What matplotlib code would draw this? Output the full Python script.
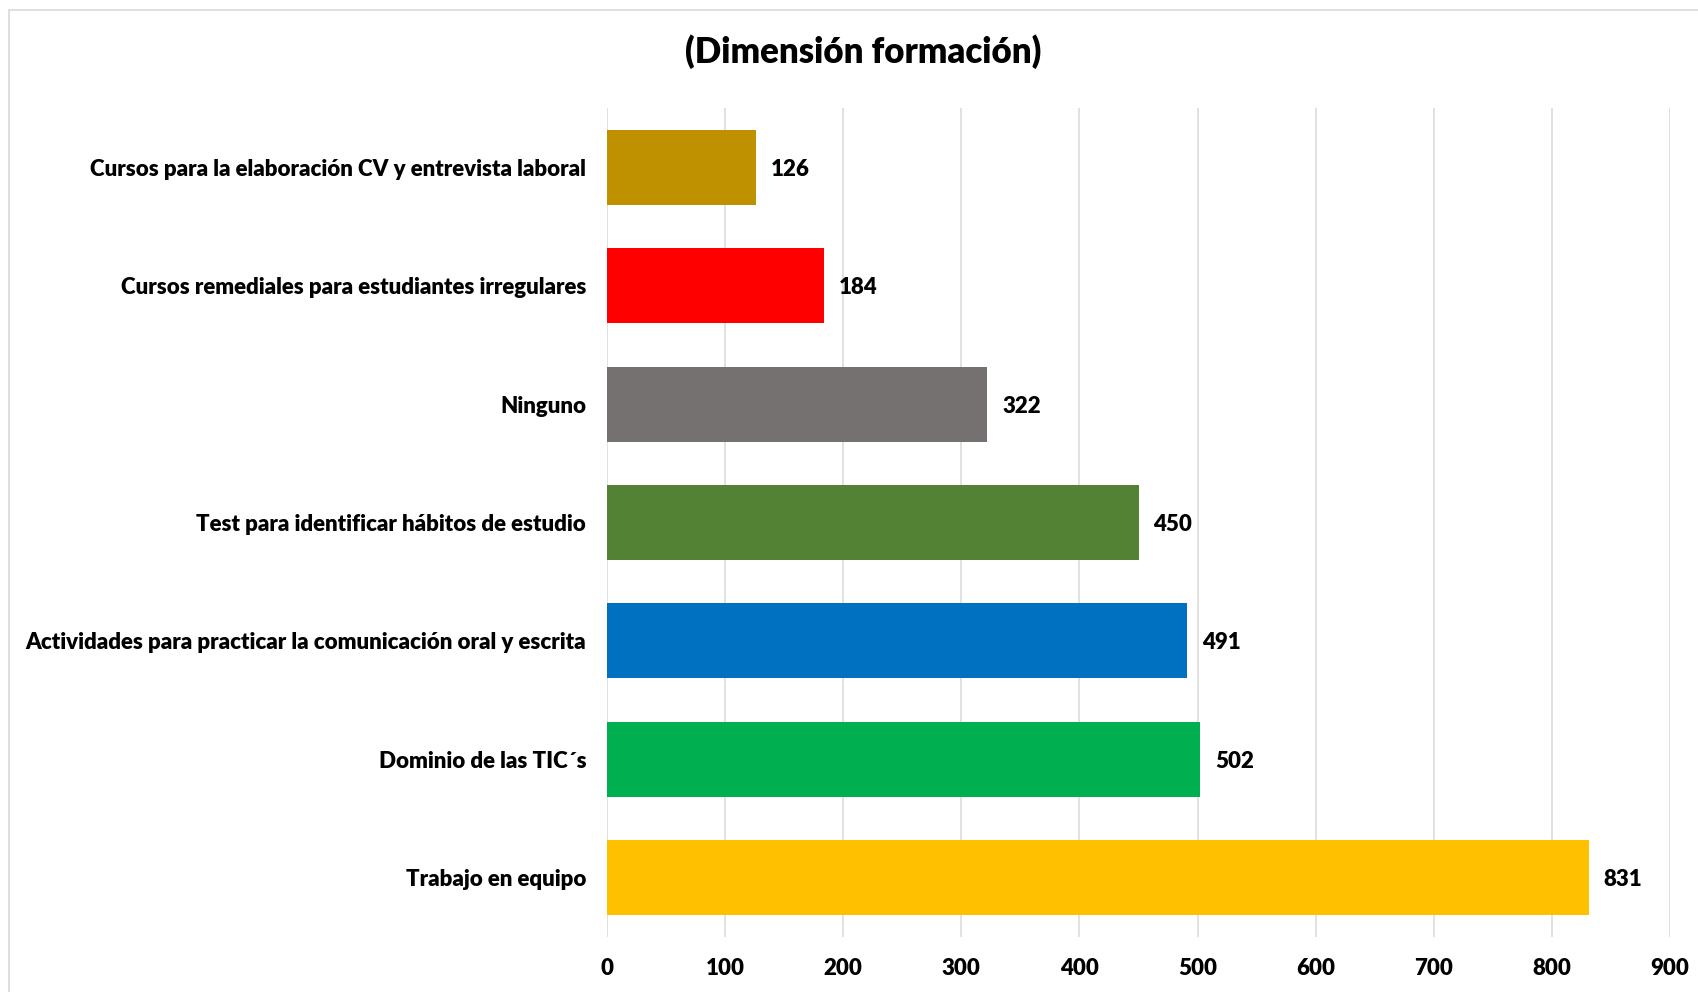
import matplotlib
matplotlib.use("Agg")
import matplotlib.pyplot as plt
from matplotlib.patches import Rectangle

categories = [
    "Trabajo en equipo",
    "Dominio de las TIC´s",
    "Actividades para practicar la comunicación oral y escrita",
    "Test para identificar hábitos de estudio",
    "Ninguno",
    "Cursos remediales para estudiantes irregulares",
    "Cursos para la elaboración CV y entrevista laboral",
]
values = [831, 502, 491, 450, 322, 184, 126]
colors = ["#FFC000", "#00B050", "#0070C0", "#548235", "#767171", "#FF0000", "#BF9000"]
xticks = [0, 100, 200, 300, 400, 500, 600, 700, 800, 900]
title = "(Dimensión formación)"

plt.rcParams['font.family'] = ['Lato', 'DejaVu Sans']
FW = "heavy"
FS = 16

W, H = 1699, 992
fig = plt.figure(figsize=(W / 100, H / 100), dpi=100)

# chart border (light grey, partially cropped)
fig.patches.append(Rectangle((9.5 / W, -0.1), 1.2, 1 - 9.5 / H + 0.1,
                             transform=fig.transFigure, fill=False,
                             edgecolor="#D9D9D9", linewidth=1.2))

ax = fig.add_axes([607 / W, 1 - 937 / H, (1670 - 607) / W, (937 - 108) / H])
y = list(range(len(categories)))
ax.barh(y, values, height=0.633, color=colors, zorder=3)
ax.set_xlim(0, 900)
ax.set_ylim(-0.5, len(categories) - 0.5)
ax.set_xticks(xticks)
ax.set_xticklabels([str(t) for t in xticks], fontsize=FS, fontweight=FW)
ax.set_yticks(y)
ax.set_yticklabels(categories, fontsize=FS, fontweight=FW)
ax.tick_params(axis="both", length=0)
ax.tick_params(axis="y", pad=15)
ax.tick_params(axis="x", pad=15)
ax.grid(axis="x", color="#D9D9D9", linewidth=1.1, zorder=0)
for s in ax.spines.values():
    s.set_visible(False)

for yi, v in zip(y, values):
    ax.annotate(str(v), (v, yi), xytext=(15, -2), textcoords="offset pixels",
                ha="left", va="center", fontsize=FS, fontweight=FW)

fig.text(863 / W, 1 - 52 / H, title, ha="center", va="center",
         fontsize=25, fontweight=FW)

fig.savefig("out.png", dpi=100)
